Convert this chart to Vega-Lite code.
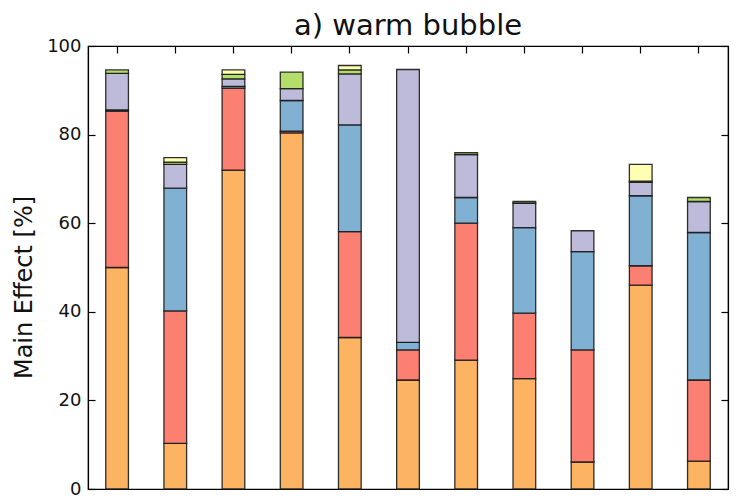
{
  "$schema": "https://vega.github.io/schema/vega-lite/v6.json",
  "autosize": "none",
  "width": 640,
  "height": 443,
  "padding": {"left": 88, "top": 46, "right": 22, "bottom": 11},
  "background": "white",
  "config": {
    "font": "DejaVu Sans",
    "view": {"stroke": "black", "strokeWidth": 1.2},
    "axis": {"grid": false, "domainColor": "black", "tickColor": "black", "labelColor": "#111", "titleColor": "#111"}
  },
  "title": {"text": "a) warm bubble", "fontSize": 29, "fontWeight": "normal", "font": "DejaVu Sans", "color": "#111", "offset": -4, "anchor": "middle"},
  "data": {"values": [
    {"bar": "P01", "comp": "A", "value": 50.0},
    {"bar": "P01", "comp": "B", "value": 35.3},
    {"bar": "P01", "comp": "C", "value": 0.3},
    {"bar": "P01", "comp": "D", "value": 8.2},
    {"bar": "P01", "comp": "E", "value": 0.8},
    {"bar": "P02", "comp": "A", "value": 10.3},
    {"bar": "P02", "comp": "B", "value": 29.9},
    {"bar": "P02", "comp": "C", "value": 27.7},
    {"bar": "P02", "comp": "D", "value": 5.4},
    {"bar": "P02", "comp": "E", "value": 0.5},
    {"bar": "P02", "comp": "F", "value": 1.0},
    {"bar": "P03", "comp": "A", "value": 72.0},
    {"bar": "P03", "comp": "B", "value": 18.5},
    {"bar": "P03", "comp": "C", "value": 0.4},
    {"bar": "P03", "comp": "D", "value": 1.7},
    {"bar": "P03", "comp": "E", "value": 1.0},
    {"bar": "P03", "comp": "F", "value": 1.0},
    {"bar": "P04", "comp": "A", "value": 80.4},
    {"bar": "P04", "comp": "B", "value": 0.4},
    {"bar": "P04", "comp": "C", "value": 6.9},
    {"bar": "P04", "comp": "D", "value": 2.7},
    {"bar": "P04", "comp": "E", "value": 3.7},
    {"bar": "P05", "comp": "A", "value": 34.2},
    {"bar": "P05", "comp": "B", "value": 23.9},
    {"bar": "P05", "comp": "C", "value": 24.1},
    {"bar": "P05", "comp": "D", "value": 11.5},
    {"bar": "P05", "comp": "E", "value": 0.9},
    {"bar": "P05", "comp": "F", "value": 1.0},
    {"bar": "P06", "comp": "A", "value": 24.6},
    {"bar": "P06", "comp": "B", "value": 6.8},
    {"bar": "P06", "comp": "C", "value": 1.7},
    {"bar": "P06", "comp": "D", "value": 61.6},
    {"bar": "P07", "comp": "A", "value": 29.1},
    {"bar": "P07", "comp": "B", "value": 30.9},
    {"bar": "P07", "comp": "C", "value": 5.8},
    {"bar": "P07", "comp": "D", "value": 9.7},
    {"bar": "P07", "comp": "E", "value": 0.4},
    {"bar": "P08", "comp": "A", "value": 24.9},
    {"bar": "P08", "comp": "B", "value": 14.8},
    {"bar": "P08", "comp": "C", "value": 19.3},
    {"bar": "P08", "comp": "D", "value": 5.5},
    {"bar": "P08", "comp": "E", "value": 0.4},
    {"bar": "P09", "comp": "A", "value": 6.1},
    {"bar": "P09", "comp": "B", "value": 25.3},
    {"bar": "P09", "comp": "C", "value": 22.2},
    {"bar": "P09", "comp": "D", "value": 4.7},
    {"bar": "P10", "comp": "A", "value": 46.0},
    {"bar": "P10", "comp": "B", "value": 4.4},
    {"bar": "P10", "comp": "C", "value": 15.8},
    {"bar": "P10", "comp": "D", "value": 3.0},
    {"bar": "P10", "comp": "E", "value": 0.3},
    {"bar": "P10", "comp": "F", "value": 3.8},
    {"bar": "P11", "comp": "A", "value": 6.3},
    {"bar": "P11", "comp": "B", "value": 18.3},
    {"bar": "P11", "comp": "C", "value": 33.3},
    {"bar": "P11", "comp": "D", "value": 7.0},
    {"bar": "P11", "comp": "E", "value": 0.9}
  ]},
  "layer": [
    {
      "mark": {"type": "bar", "stroke": "#1a1a1a", "strokeWidth": 1.3, "strokeOpacity": 0.9},
      "encoding": {
        "x": {"field": "bar", "type": "nominal", "sort": null,
              "scale": {"paddingInner": 0.61, "paddingOuter": 0.305},
              "axis": {"orient": "bottom", "title": null, "labels": false, "tickSize": -7, "tickWidth": 1.2, "domainWidth": 1.2}},
        "y": {"field": "value", "type": "quantitative", "aggregate": "sum", "stack": "zero",
              "scale": {"domain": [0, 100], "nice": false},
              "axis": {"orient": "left", "title": "Main Effect [%]", "titleFontSize": 24, "titleFontWeight": "normal", "titlePadding": 10, "titleY": 241,
                       "values": [0, 20, 40, 60, 80, 100], "labelFontSize": 18, "tickSize": -7, "tickWidth": 1.2, "labelPadding": 14, "domainWidth": 1.2}},
        "color": {"field": "comp", "type": "nominal", "legend": null,
                  "scale": {"domain": ["A", "B", "C", "D", "E", "F"], "range": ["#FDB462", "#FB8072", "#80B1D3", "#BEBADA", "#B3DE69", "#FFFFB3"]}},
        "order": {"field": "comp", "sort": "ascending"}
      }
    },
    {
      "mark": {"type": "bar", "opacity": 0},
      "encoding": {
        "x": {"field": "bar", "type": "nominal", "sort": null,
              "axis": {"orient": "top", "title": null, "labels": false, "tickSize": -7, "tickWidth": 1.2, "domainWidth": 1.2}},
        "y": {"field": "value", "type": "quantitative", "aggregate": "sum", "stack": "zero",
              "axis": {"orient": "right", "title": null, "labels": false, "values": [0, 20, 40, 60, 80, 100], "tickSize": -7, "tickWidth": 1.2, "domainWidth": 1.2}},
        "color": {"field": "comp", "type": "nominal", "legend": null}
      }
    }
  ],
  "resolve": {"axis": {"x": "independent", "y": "independent"}}
}
